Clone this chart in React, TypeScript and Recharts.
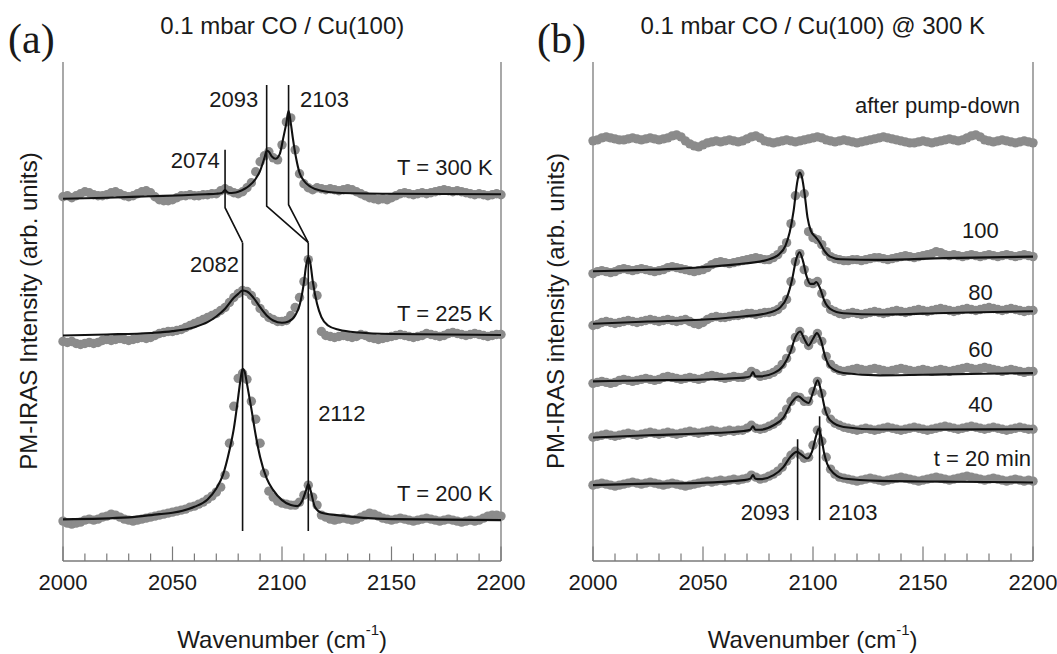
import React from 'react';
import { ComposedChart, XAxis, YAxis, Scatter, Line, ReferenceLine } from 'recharts';

// ---------- shared categories ----------
const waveGrid = [
  2000, 2002, 2004, 2006, 2008, 2010, 2012, 2014, 2016, 2018,
  2020, 2022, 2024, 2026, 2028, 2030, 2032, 2034, 2036, 2038,
  2040, 2042, 2044, 2046, 2048, 2050, 2052, 2054, 2056, 2058,
  2060, 2062, 2064, 2066, 2068, 2070, 2072, 2074, 2076, 2078,
  2080, 2082, 2084, 2086, 2088, 2090, 2092, 2094, 2096, 2098,
  2100, 2102, 2104, 2106, 2108, 2110, 2112, 2114, 2116, 2118,
  2120, 2122, 2124, 2126, 2128, 2130, 2132, 2134, 2136, 2138,
  2140, 2142, 2144, 2146, 2148, 2150, 2152, 2154, 2156, 2158,
  2160, 2162, 2164, 2166, 2168, 2170, 2172, 2174, 2176, 2178,
  2180, 2182, 2184, 2186, 2188, 2190, 2192, 2194, 2196, 2198,
  2200,
];
const waveTicks = [
  2000, 2010, 2020, 2030, 2040, 2050, 2060, 2070, 2080, 2090, 2100,
  2110, 2120, 2130, 2140, 2150, 2160, 2170, 2180, 2190, 2200,
];

// ---------- panel (a): measured spectra (arb. units) ----------
const measA300 = [
  365, 366, 364, 366, 368, 370, 369, 367, 366, 366,
  367, 369, 370, 368, 366, 365, 366, 368, 370, 371,
  369, 365, 362, 361, 361, 362, 364, 366, 366, 367,
  366, 366, 367, 367, 368, 368, 371, 373, 371, 369,
  368, 370, 374, 379, 390, 400, 406, 410, 404, 402,
  417, 440, 444, 412, 388, 378, 374, 372, 374, 373,
  372, 373, 372, 371, 372, 373, 372, 370, 368, 366,
  364, 363, 362, 363, 362, 364, 366, 368, 369, 368,
  367, 368, 369, 368, 369, 370, 371, 372, 371, 370,
  371, 370, 369, 368, 367, 368, 367, 366, 367, 368,
  367,
];
const measA225 = [
  220, 219, 220, 218, 217, 218, 219, 218, 219, 221,
  222, 221, 222, 223, 222, 221, 222, 223, 224, 223,
  224, 226, 228, 229, 230, 230, 231, 232, 234, 236,
  238, 240, 242, 244, 246, 248, 251, 254, 259, 264,
  268, 271, 270, 266, 260, 253, 248, 244, 242, 240,
  240, 241, 246, 254, 264, 280, 302, 276, 266, 230,
  226, 225, 224, 225, 226, 225, 224, 225, 227, 226,
  224, 223, 222, 223, 224, 225, 226, 227, 226, 225,
  224, 225, 226, 228, 227, 226, 225, 226, 228, 229,
  228, 227, 226, 227, 228, 227, 226, 225, 226, 227,
  227,
];
const measA200 = [
  40, 38, 37, 38, 39, 41, 42, 41, 42, 44,
  45, 47, 46, 44, 42, 41, 40, 41, 42, 43,
  44, 45, 46, 47, 48, 49, 50, 51, 52, 54,
  55, 57, 59, 62, 65, 69, 74, 86, 118, 155,
  183, 188, 182, 160, 142, 118, 88, 70, 64, 60,
  58, 57, 56, 56, 59, 66, 76, 64, 56, 46,
  44, 42, 41, 42, 43, 42, 41, 42, 44, 46,
  48, 47, 45, 43, 42, 41, 42, 43, 42, 41,
  40, 41, 42, 43, 42, 41, 40, 41, 42, 41,
  40, 39, 40, 41, 40, 41, 43, 45, 46, 46,
  45,
];

// ---------- panel (a): fitted curves [wavenumber, intensity] ----------
const fitA300 = [
  [2000, 363], [2020, 364], [2040, 365.5], [2055, 366.5], [2065, 367.5], [2070, 368],
  [2072, 368.5], [2073, 369.5], [2074, 372], [2075, 369.5], [2076, 368.8], [2078, 369],
  [2080, 370], [2083, 373], [2085, 376], [2088, 383], [2090, 391], [2092, 404],
  [2093, 411], [2094, 410], [2095.5, 405], [2097, 403], [2099, 408], [2100.5, 423],
  [2102, 439], [2103, 451], [2104, 439], [2105, 423], [2106.5, 403], [2108, 389],
  [2110, 381], [2113, 375], [2118, 371], [2125, 369], [2150, 368], [2200, 367.5],
];
const fitA225 = [
  [2000, 226], [2020, 227], [2040, 228.5], [2050, 230.3], [2060, 234.3], [2066, 239.3],
  [2070, 245], [2074, 252.7], [2078, 263.7], [2080, 267.7], [2082, 271], [2084, 270],
  [2087, 263.7], [2090, 254.3], [2093, 246], [2096, 241], [2100, 238.7], [2103, 240],
  [2106, 246], [2108, 256], [2110, 279], [2111, 296], [2112, 304.3], [2113, 297.7],
  [2114, 281], [2116, 257.7], [2118, 244.3], [2121, 236], [2126, 231.7], [2135, 229],
  [2150, 227.5], [2200, 226.5],
];
const fitA200 = [
  [2000, 41.7], [2030, 43.7], [2044, 47], [2050, 48.3], [2060, 54.3], [2066, 61.7],
  [2070, 72.7], [2073, 86], [2076, 111], [2078, 132.7], [2080, 164.3], [2081, 181],
  [2082, 192.7], [2083, 189.3], [2084, 177.7], [2086, 152.7], [2088, 126], [2090, 104.3],
  [2093, 82.7], [2096, 71], [2100, 61], [2104, 56], [2107, 55], [2109, 59.3],
  [2111, 71], [2112, 77], [2113, 71], [2115, 54.3], [2118, 48.3], [2125, 46],
  [2150, 42], [2200, 41],
];

// ---------- panel (a): peak-assignment guide lines ----------
const guideA2074 = [[2074, 412], [2074, 354], [2082, 319]];
const guideA2093 = [[2093, 477], [2093, 355.5], [2112, 319]];
const guideA2103 = [[2103, 477], [2103, 357], [2112, 319]];
const guideA2082 = [[2082, 319], [2082, 30]];
const guideA2112 = [[2112, 319], [2112, 30]];

const notesA = [
  { x: 2089.1, y: 463, text: '2093', anchor: 'end' },
  { x: 2108.2, y: 463, text: '2103', anchor: 'start' },
  { x: 2071.6, y: 402, text: '2074', anchor: 'end' },
  { x: 2080.4, y: 298, text: '2082', anchor: 'end' },
  { x: 2116.5, y: 148, text: '2112', anchor: 'start' },
  { x: 2196.2, y: 395, text: 'T = 300 K', anchor: 'end' },
  { x: 2196.2, y: 248, text: 'T = 225 K', anchor: 'end' },
  { x: 2196.2, y: 68, text: 'T = 200 K', anchor: 'end' },
];

// ---------- panel (b): measured spectra ----------
const measBPump = [
  421, 422, 424, 425, 424, 423, 422, 422, 423, 424,
  423, 422, 423, 424, 423, 422, 423, 424, 426, 427,
  425, 421, 418, 416, 415, 417, 419, 420, 421, 420,
  421, 422, 421, 420, 421, 423, 425, 426, 424, 421,
  420, 419, 420, 421, 422, 421, 420, 421, 422, 423,
  424, 425, 424, 422, 421, 420, 421, 422, 421, 420,
  419, 420, 421, 422, 423, 424, 425, 424, 423, 422,
  421, 420, 419, 419, 420, 421, 420, 419, 420, 421,
  422, 423, 422, 421, 422, 424, 426, 427, 425, 422,
  421, 420, 421, 422, 421, 420, 419, 420, 421, 420,
  419,
];
const measB100 = [
  288, 290, 291, 290, 289, 290, 292, 293, 292, 291,
  292, 293, 292, 291, 290, 291, 292, 294, 295, 294,
  293, 292, 291, 290, 291, 292, 294, 297, 299, 300,
  299, 298, 299, 300, 301, 302, 303, 304, 303, 302,
  302, 304, 307, 312, 319, 338, 366, 388, 368, 330,
  324, 322, 317, 310, 305, 303, 302, 301, 301, 302,
  302, 301, 302, 303, 304, 304, 303, 302, 303, 304,
  305, 306, 305, 304, 305, 306, 307, 308, 310, 309,
  307, 306, 307, 306, 305, 306, 307, 306, 305, 306,
  307, 306, 305, 306, 307, 306, 305, 306, 307, 306,
  305,
];
const measB80 = [
  236, 237, 239, 240, 239, 238, 239, 240, 241, 240,
  239, 240, 241, 242, 241, 240, 241, 242, 241, 240,
  241, 242, 240, 238, 237, 239, 242, 244, 245, 244,
  244, 245, 246, 246, 247, 248, 248, 247, 248, 249,
  249, 250, 252, 256, 262, 280, 300, 308, 292, 279,
  278, 280, 268, 258, 252, 250, 248, 247, 248, 249,
  248, 247, 248, 249, 250, 249, 248, 249, 250, 251,
  250, 249, 250, 251, 252, 251, 250, 251, 252, 253,
  252, 251, 250, 251, 252, 253, 252, 251, 252, 253,
  254, 253, 252, 251, 252, 253, 252, 251, 250, 251,
  251,
];
const measB60 = [
  178, 179, 180, 179, 178, 179, 181, 182, 181, 180,
  181, 182, 183, 182, 181, 182, 184, 185, 184, 183,
  182, 183, 184, 183, 182, 183, 185, 186, 185, 184,
  183, 184, 185, 184, 184, 186, 190, 188, 185, 186,
  187, 189, 192, 197, 203, 212, 224, 230, 222, 216,
  222, 228, 220, 205, 197, 193, 191, 190, 191, 192,
  193, 192, 191, 192, 193, 192, 191, 190, 191, 192,
  193, 192, 191, 190, 191, 192, 191, 190, 191, 192,
  191, 190, 191, 192, 193, 194, 193, 192, 193, 194,
  193, 192, 191, 190, 191, 192, 191, 190, 189, 190,
  190,
];
const measB40 = [
  124, 125, 126, 127, 126, 125, 126, 127, 128, 127,
  126, 127, 128, 129, 128, 127, 128, 129, 128, 127,
  128, 129, 130, 129, 128, 129, 130, 131, 130, 129,
  130, 131, 130, 131, 131, 133, 136, 133, 132, 133,
  135, 137, 140, 145, 152, 160, 165, 164, 160, 160,
  170, 180, 168, 150, 142, 138, 136, 134, 133, 132,
  131, 132, 133, 132, 131, 132, 133, 134, 133, 132,
  131, 132, 133, 134, 133, 132, 131, 132, 133, 134,
  135, 134, 133, 132, 133, 134, 135, 134, 133, 132,
  133, 134, 133, 132, 131, 132, 133, 134, 133, 132,
  132,
];
const measB20 = [
  76, 77, 78, 77, 76, 75, 76, 77, 78, 79,
  78, 77, 78, 79, 78, 77, 76, 77, 78, 77,
  76, 75, 76, 77, 78, 79, 80, 79, 80, 81,
  80, 81, 82, 81, 82, 83, 86, 84, 82, 83,
  85, 87, 90, 94, 100, 106, 110, 107, 103, 104,
  116, 131, 120, 104, 92, 87, 84, 83, 82, 81,
  80, 81, 82, 83, 82, 81, 80, 81, 82, 83,
  84, 83, 82, 81, 80, 81, 82, 83, 84, 83,
  82, 81, 82, 83, 84, 85, 84, 83, 82, 81,
  82, 83, 82, 81, 80, 81, 82, 81, 80, 81,
  80,
];

// ---------- panel (b): fitted curves ----------
const fitB100 = [
  [2000, 290.3], [2020, 291.5], [2040, 293], [2049, 294.3], [2064, 297], [2079, 301.7],
  [2084.4, 307], [2087.5, 316], [2089.4, 329.3], [2091.2, 351], [2092.7, 377.7],
  [2093.9, 389.3], [2095, 384.3], [2096.2, 367.7], [2097.5, 344.3], [2099, 331],
  [2101, 325], [2103, 319.3], [2105.1, 311], [2107.8, 305], [2112.4, 302.3],
  [2130.5, 301.7], [2160, 303.5], [2200, 305],
];
const fitB80 = [
  [2000, 237.7], [2025, 240], [2048.8, 241.7], [2063.9, 244.3], [2079.1, 248.3],
  [2085.2, 254.3], [2088.2, 264.3], [2090.4, 281], [2092.4, 302.7], [2093.9, 309.3],
  [2095.4, 301], [2097, 286], [2098.8, 277.7], [2100.3, 277.7], [2101.5, 279.5],
  [2103.3, 272.7], [2105.1, 261], [2107.8, 252.7], [2113.9, 248.3], [2130.5, 247],
  [2160, 248.5], [2200, 250.3],
];
const fitB60 = [
  [2000, 180], [2025, 181], [2048.8, 181.7], [2068.5, 183.7], [2071.5, 185],
  [2072.7, 189.3], [2073.8, 185], [2076, 185], [2082.1, 188.3], [2086.6, 196],
  [2089.7, 209.3], [2092, 224.3], [2094.2, 230], [2096, 222.7], [2098, 216],
  [2100, 222.7], [2101.8, 228.3], [2103.6, 221], [2105.6, 204.3], [2107.8, 194.3],
  [2113.9, 188.3], [2130.5, 186], [2160, 187], [2200, 188.3],
];
const fitB40 = [
  [2000, 123.7], [2025, 126], [2048.8, 127.7], [2068.5, 130.3], [2071.5, 131.5],
  [2072.7, 135], [2073.8, 131.5], [2076, 131.5], [2082.1, 136], [2086.6, 143.7],
  [2090.4, 159.3], [2093.4, 165], [2095.7, 161], [2098, 158.3], [2100.3, 171],
  [2102.1, 181], [2103.6, 171], [2105.6, 151], [2107.8, 141], [2113.9, 134.3],
  [2130.5, 131.7], [2160, 131.8], [2200, 132],
];
const fitB20 = [
  [2000, 76], [2025, 77.5], [2048.8, 78.3], [2068.5, 81], [2071.5, 82.5],
  [2072.7, 86], [2073.8, 82.5], [2076, 82], [2082.1, 86], [2086.6, 94.3],
  [2089.7, 104.3], [2092.7, 109.3], [2095, 106], [2097.3, 102.7], [2099.5, 109.3],
  [2101.5, 126], [2102.6, 132.7], [2103.6, 126], [2105.1, 107.7], [2107.8, 91.7],
  [2113.9, 82.7], [2130.5, 80.3], [2160, 79.5], [2200, 78.7],
];

const guideB2093 = [[2093, 122], [2093, 41]];
const guideB2103 = [[2103, 145], [2103, 41]];

const notesB = [
  { x: 2194.1, y: 457, text: 'after pump-down', anchor: 'end' },
  { x: 2176.1, y: 331.5, text: '100', anchor: 'middle' },
  { x: 2176.1, y: 270, text: '80', anchor: 'middle' },
  { x: 2176.1, y: 212, text: '60', anchor: 'middle' },
  { x: 2176.1, y: 157, text: '40', anchor: 'middle' },
  { x: 2199.1, y: 103, text: 't = 20 min', anchor: 'end' },
  { x: 2089.4, y: 49, text: '2093', anchor: 'end' },
  { x: 2107.1, y: 49, text: '2103', anchor: 'start' },
];

// ---------- styling ----------
const SANS = '"Liberation Sans", Arial, Helvetica, sans-serif';
const SERIF = '"Liberation Serif", "Times New Roman", serif';
const FRAME = '#7a7a7a';
const DOT = '#8b8b8b';
const INK = '#1a1a1a';
const CHART_H = 654;
const AXIS_H = 30;

const gridPoints = (ys: number[]) => waveGrid.map((x, i) => ({ x, y: ys[i] }));
const pairPoints = (pairs: number[][]) => pairs.map(([x, y]) => ({ x, y }));

const BottomTick = (props: any) => {
  const { x, y, payload } = props;
  const major = payload.value % 50 === 0;
  return (
    <g>
      <line x1={x} x2={x} y1={y} y2={y - (major ? 14.5 : 7.5)} stroke={FRAME} strokeWidth={1.2} />
      {major && (
        <text x={x} y={y + 29} textAnchor="middle" fontSize={22} fontFamily={SANS} fill={INK}>
          {payload.value}
        </text>
      )}
    </g>
  );
};

const TopTick = (props: any) => {
  const { x, y, payload } = props;
  const major = payload.value % 50 === 0;
  return <line x1={x} x2={x} y1={y} y2={y + (major ? 14.5 : 7.5)} stroke={FRAME} strokeWidth={1.2} />;
};

const renderDot = (props: any) => (
  <circle key={`d-${props.index}`} cx={props.cx} cy={props.cy} r={4.7} fill={DOT} stroke="none" />
);

const NoteShape = (props: any) => {
  const p = props.payload;
  return (
    <text x={props.cx} y={props.cy + 8} textAnchor={p.anchor} fontSize={22} fontFamily={SANS} fill={INK}>
      {p.text}
    </text>
  );
};

type Margin = { top: number; right: number; bottom: number; left: number };
type PanelProps = {
  width: number;
  margin: Margin;
  measured: number[][];
  fits: number[][][];
  guides: number[][][];
  notes: { x: number; y: number; text: string; anchor: string }[];
};

function Panel({ width, margin, measured, fits, guides, notes }: PanelProps) {
  const overlayMargin = { ...margin, bottom: margin.bottom + AXIS_H };
  return (
    <div style={{ position: 'relative', width, height: CHART_H }}>
      {/* base layer: frame, ticks, measured points */}
      <div style={{ position: 'absolute', left: 0, top: 0 }}>
        <ComposedChart width={width} height={CHART_H} margin={margin}>
          <XAxis
            xAxisId="top"
            orientation="top"
            type="number"
            dataKey="x"
            domain={[2000, 2200]}
            ticks={waveTicks}
            interval={0}
            height={0}
            tickSize={0}
            tickMargin={0}
            tickLine={false}
            tick={TopTick}
            axisLine={{ stroke: FRAME, strokeWidth: 1.3 }}
          />
          <XAxis
            type="number"
            dataKey="x"
            domain={[2000, 2200]}
            ticks={waveTicks}
            interval={0}
            height={AXIS_H}
            tickSize={0}
            tickMargin={0}
            tickLine={false}
            tick={BottomTick}
            axisLine={{ stroke: FRAME, strokeWidth: 1.3 }}
          />
          <YAxis type="number" dataKey="y" domain={[0, 500]} hide />
          <ReferenceLine x={2000} stroke={FRAME} strokeWidth={1.3} />
          <ReferenceLine x={2200} stroke={FRAME} strokeWidth={1.3} />
          {measured.map((ys, i) => (
            <Line
              key={'m' + i}
              data={gridPoints(ys)}
              dataKey="y"
              type="linear"
              stroke="none"
              dot={renderDot}
              activeDot={false}
              isAnimationActive={false}
            />
          ))}
        </ComposedChart>
      </div>
      {/* top layer: fitted curves, guide lines, annotations */}
      <div style={{ position: 'absolute', left: 0, top: 0 }}>
        <ComposedChart width={width} height={CHART_H} margin={overlayMargin}>
          <XAxis type="number" dataKey="x" domain={[2000, 2200]} hide />
          <YAxis type="number" dataKey="y" domain={[0, 500]} hide />
          {fits.map((f, i) => (
            <Line
              key={'f' + i}
              data={pairPoints(f)}
              dataKey="y"
              type="monotone"
              stroke="#111"
              strokeWidth={2.1}
              dot={false}
              activeDot={false}
              isAnimationActive={false}
            />
          ))}
          {guides.map((g, i) => (
            <Line
              key={'g' + i}
              data={pairPoints(g)}
              dataKey="y"
              type="linear"
              stroke="#111"
              strokeWidth={1.6}
              dot={false}
              activeDot={false}
              isAnimationActive={false}
            />
          ))}
          <Scatter data={notes} dataKey="y" shape={NoteShape} isAnimationActive={false} />
        </ComposedChart>
      </div>
    </div>
  );
}

export default function App() {
  return (
    <div style={{ position: 'absolute', left: 0, top: 0, width: 1057, height: 654, background: '#fff' }}>
      <div style={{ position: 'absolute', left: 0, top: 0 }}>
        <Panel
          width={528}
          margin={{ top: 62, right: 27, bottom: 63, left: 63 }}
          measured={[measA300, measA225, measA200]}
          fits={[fitA300, fitA225, fitA200]}
          guides={[guideA2074, guideA2093, guideA2103, guideA2082, guideA2112]}
          notes={notesA}
        />
      </div>
      <div style={{ position: 'absolute', left: 528, top: 0 }}>
        <Panel
          width={529}
          margin={{ top: 62, right: 24, bottom: 63, left: 65 }}
          measured={[measBPump, measB100, measB80, measB60, measB40, measB20]}
          fits={[fitB100, fitB80, fitB60, fitB40, fitB20]}
          guides={[guideB2093, guideB2103]}
          notes={notesB}
        />
      </div>
      <svg
        width={1057}
        height={654}
        style={{ position: 'absolute', left: 0, top: 0, pointerEvents: 'none' }}
        fontFamily={SANS}
        fill={INK}
      >
        <text x={8} y={53} fontFamily={SERIF} fontSize={42}>(a)</text>
        <text x={537} y={53} fontFamily={SERIF} fontSize={42}>(b)</text>
        <text x={282.2} y={34} textAnchor="middle" fontSize={24}>0.1 mbar CO / Cu(100)</text>
        <text x={812.7} y={34} textAnchor="middle" fontSize={24}>0.1 mbar CO / Cu(100) @ 300 K</text>
        <text transform="translate(36.5,311) rotate(-90)" textAnchor="middle" fontSize={24}>
          PM-IRAS Intensity (arb. units)
        </text>
        <text transform="translate(564,311) rotate(-90)" textAnchor="middle" fontSize={24}>
          PM-IRAS intensity (arb. units)
        </text>
        <text x={282.2} y={648} textAnchor="middle" fontSize={24}>
          Wavenumber (cm<tspan dy={-13} fontSize={15}>-1</tspan>
          <tspan dy={13}>)</tspan>
        </text>
        <text x={812.7} y={648} textAnchor="middle" fontSize={24}>
          Wavenumber (cm<tspan dy={-13} fontSize={15}>-1</tspan>
          <tspan dy={13}>)</tspan>
        </text>
      </svg>
    </div>
  );
}
